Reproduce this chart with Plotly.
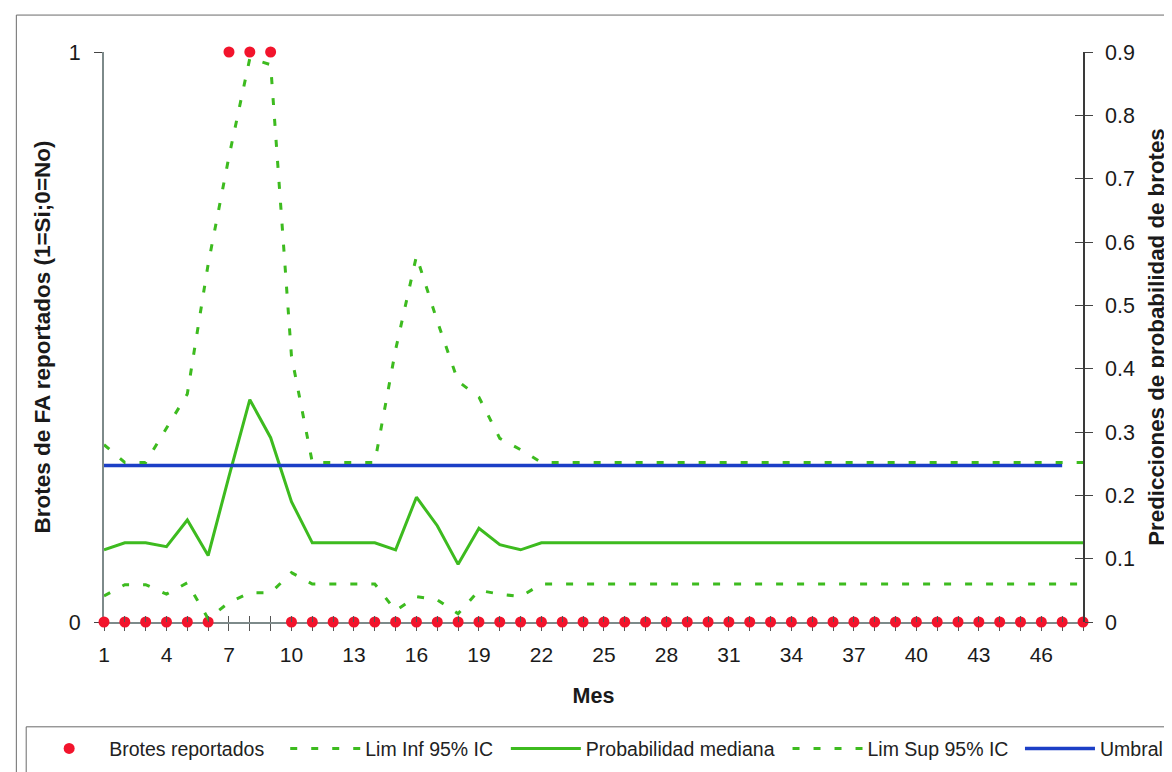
import plotly.graph_objects as go

# ---------------- data ----------------
meses = [1, 2, 3, 4, 5, 6, 7, 8, 9, 10, 11, 12, 13, 14, 15, 16, 17, 18, 19, 20,
         21, 22, 23, 24, 25, 26, 27, 28, 29, 30, 31, 32, 33, 34, 35, 36, 37, 38,
         39, 40, 41, 42, 43, 44, 45, 46, 47, 48]

brotes = [0, 0, 0, 0, 0, 0, 1, 1, 1, 0, 0, 0, 0, 0, 0, 0, 0, 0, 0, 0,
          0, 0, 0, 0, 0, 0, 0, 0, 0, 0, 0, 0, 0, 0, 0, 0, 0, 0, 0, 0,
          0, 0, 0, 0, 0, 0, 0, 0]

lim_inf = [0.041, 0.059, 0.059, 0.044, 0.062, 0.005, 0.031, 0.046, 0.046, 0.078,
           0.060, 0.060, 0.060, 0.060, 0.018, 0.040, 0.035, 0.013, 0.050, 0.044,
           0.040, 0.060, 0.060, 0.060, 0.060, 0.060, 0.060, 0.060, 0.060, 0.060,
           0.060, 0.060, 0.060, 0.060, 0.060, 0.060, 0.060, 0.060, 0.060, 0.060,
           0.060, 0.060, 0.060, 0.060, 0.060, 0.060, 0.060, 0.060]

mediana = [0.114, 0.125, 0.125, 0.119, 0.161, 0.105, 0.230, 0.351, 0.291, 0.190,
           0.125, 0.125, 0.125, 0.125, 0.114, 0.197, 0.152, 0.091, 0.148, 0.122,
           0.114, 0.125, 0.125, 0.125, 0.125, 0.125, 0.125, 0.125, 0.125, 0.125,
           0.125, 0.125, 0.125, 0.125, 0.125, 0.125, 0.125, 0.125, 0.125, 0.125,
           0.125, 0.125, 0.125, 0.125, 0.125, 0.125, 0.125, 0.125]

lim_sup = [0.280, 0.252, 0.252, 0.305, 0.360, 0.565, 0.735, 0.890, 0.880, 0.420,
           0.252, 0.252, 0.252, 0.252, 0.430, 0.578, 0.475, 0.380, 0.355, 0.290,
           0.272, 0.252, 0.252, 0.252, 0.252, 0.252, 0.252, 0.252, 0.252, 0.252,
           0.252, 0.252, 0.252, 0.252, 0.252, 0.252, 0.252, 0.252, 0.252, 0.252,
           0.252, 0.252, 0.252, 0.252, 0.252, 0.252, 0.252, 0.252]

umbral_meses = [1, 2, 3, 4, 5, 6, 7, 8, 9, 10, 11, 12, 13, 14, 15, 16, 17, 18, 19, 20,
                21, 22, 23, 24, 25, 26, 27, 28, 29, 30, 31, 32, 33, 34, 35, 36, 37, 38,
                39, 40, 41, 42, 43, 44, 45, 46, 47]
umbral = [0.247, 0.247, 0.247, 0.247, 0.247, 0.247, 0.247, 0.247, 0.247, 0.247,
          0.247, 0.247, 0.247, 0.247, 0.247, 0.247, 0.247, 0.247, 0.247, 0.247,
          0.247, 0.247, 0.247, 0.247, 0.247, 0.247, 0.247, 0.247, 0.247, 0.247,
          0.247, 0.247, 0.247, 0.247, 0.247, 0.247, 0.247, 0.247, 0.247, 0.247,
          0.247, 0.247, 0.247, 0.247, 0.247, 0.247, 0.247]

x_ticktext = ["1", "", "", "4", "", "", "7", "", "", "10", "", "", "13", "", "", "16",
              "", "", "19", "", "", "22", "", "", "25", "", "", "28", "", "", "31", "",
              "", "34", "", "", "37", "", "", "40", "", "", "43", "", "", "46", "", ""]
y2_tickvals = [0, 0.1, 0.2, 0.3, 0.4, 0.5, 0.6, 0.7, 0.8, 0.9]
y2_ticktext = ["0", "0.1", "0.2", "0.3", "0.4", "0.5", "0.6", "0.7", "0.8", "0.9"]

# ---------------- styling ----------------
GREEN = "#3dbb1f"
BLUE = "#1c3fc6"
RED = "#f2142c"
AXIS_GREY = "#7d8a8a"
FONT = "Liberation Sans, Arial, sans-serif"

W, H = 1172, 772
ML, MR, MT, MB = 96, 82, 44, 157
PW, PH = W - ML - MR, H - MT - MB


def px_x(px):
    return (px - ML) / PW


def px_y(py):
    return (H - MB - py) / PH


fig = go.Figure()

fig.add_trace(go.Scatter(
    x=meses, y=brotes, mode="markers", name="Brotes reportados",
    marker=dict(color=RED, size=11), cliponaxis=False,
    xaxis="x", yaxis="y", legend="legend"))

fig.add_trace(go.Scatter(
    x=meses, y=lim_inf, mode="lines", name="Lim Inf 95% IC",
    line=dict(color=GREEN, width=3, dash="7px,14px"), cliponaxis=False,
    xaxis="x", yaxis="y2", legend="legend2"))

fig.add_trace(go.Scatter(
    x=meses, y=mediana, mode="lines", name="Probabilidad mediana",
    line=dict(color=GREEN, width=3), cliponaxis=False,
    xaxis="x", yaxis="y2", legend="legend3"))

fig.add_trace(go.Scatter(
    x=umbral_meses, y=umbral, mode="lines", name="Umbral",
    line=dict(color=BLUE, width=3.5), cliponaxis=False,
    xaxis="x", yaxis="y2", legend="legend5"))

fig.add_trace(go.Scatter(
    x=meses, y=lim_sup, mode="lines", name="Lim Sup 95% IC",
    line=dict(color=GREEN, width=3, dash="7px,14px"), cliponaxis=False,
    xaxis="x", yaxis="y2", legend="legend4"))

# empty helper trace so the inner-tick overlay axes are drawn
fig.add_trace(go.Scatter(x=[], y=[], xaxis="x2", yaxis="y3",
                         showlegend=False, hoverinfo="skip"))

legend_common = dict(orientation="h", yanchor="middle", xanchor="left",
                     bgcolor="rgba(0,0,0,0)", borderwidth=0,
                     font=dict(family=FONT, size=19.5, color="#222"),
                     itemwidth=70)
legend_y = px_y(742)

fig.update_layout(
    width=W, height=H,
    margin=dict(l=ML, r=MR, t=MT, b=MB),
    paper_bgcolor="white", plot_bgcolor="white",
    font=dict(family=FONT, size=20, color="#1a1a1a"),
    xaxis=dict(range=[1, 48], tickmode="array", tickvals=meses, ticktext=x_ticktext,
               ticks="outside", ticklen=7, tickwidth=1, tickcolor="#555",
               showline=True, linecolor=AXIS_GREY, linewidth=2,
               showgrid=False, zeroline=False, layer="below traces",
               tickfont=dict(size=21), ticklabelstandoff=6,
               title=dict(text="<b>Mes</b>", font=dict(size=21.5), standoff=23)),
    xaxis2=dict(range=[1, 48], overlaying="x", anchor="y3", side="bottom",
                tickmode="array", tickvals=meses, showticklabels=False,
                ticks="inside", ticklen=6, tickwidth=1, tickcolor="#555",
                showline=False, showgrid=False, zeroline=False),
    yaxis=dict(range=[0, 1], tickmode="array", tickvals=[0, 1], ticktext=["0", "1"],
               ticks="outside", ticklen=8, tickwidth=1, tickcolor="#444",
               showline=True, linecolor=AXIS_GREY, linewidth=2,
               showgrid=True, gridcolor="#a9c2c2", gridwidth=2,
               zeroline=False, layer="below traces", tickfont=dict(size=21.5),
               ticklabelstandoff=9,
               title=dict(text="<b>Brotes de FA reportados (1=Si;0=No)</b>",
                          font=dict(size=22.5), standoff=12)),
    yaxis2=dict(range=[0, 0.9], overlaying="y", side="right", anchor="x",
                tickmode="array", tickvals=y2_tickvals, ticktext=y2_ticktext,
                ticks="outside", ticklen=8, tickwidth=1, tickcolor="#444",
                showline=True, linecolor="#3a3a3a", linewidth=1.5,
                showgrid=False, zeroline=False, tickfont=dict(size=21.5),
                ticklabelstandoff=8,
                title=dict(text="<b>Predicciones de probabilidad de brotes</b>",
                           font=dict(size=22.3), standoff=14)),
    yaxis3=dict(range=[0, 0.9], overlaying="y", side="right", anchor="x2",
                tickmode="array", tickvals=y2_tickvals, showticklabels=False,
                ticks="inside", ticklen=8, tickwidth=1, tickcolor="#444",
                showline=False, showgrid=False, zeroline=False),
    legend=dict(x=px_x(20), y=legend_y, **legend_common),
    legend2=dict(x=px_x(280), y=legend_y, **legend_common),
    legend3=dict(x=px_x(504), y=legend_y, **legend_common),
    legend4=dict(x=px_x(790), y=legend_y, **legend_common),
    legend5=dict(x=px_x(1026), y=legend_y, **legend_common),
    shapes=[
        dict(type="rect", xref="paper", yref="paper",
             x0=px_x(7), x1=px_x(1200), y0=px_y(771), y1=px_y(7),
             line=dict(color="#6a6a6a", width=1), layer="below"),
        dict(type="rect", xref="paper", yref="paper",
             x0=px_x(17), x1=px_x(1200), y0=px_y(770), y1=px_y(720),
             line=dict(color="#6a6a6a", width=1), layer="below"),
    ],
    showlegend=True,
)

fig.write_html("out.html")
